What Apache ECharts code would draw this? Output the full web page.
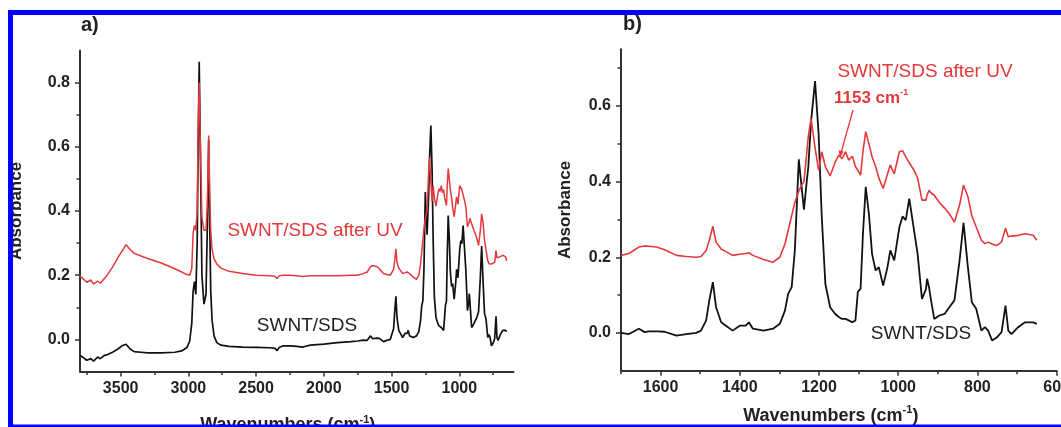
<!DOCTYPE html>
<html>
<head>
<meta charset="utf-8">
<script src="https://cdn.jsdelivr.net/npm/echarts@6/dist/echarts.min.js"></script>
<style>
  html, body { margin: 0; padding: 0; background: #fff; }
  #chart { width: 1061px; height: 427px; }
</style>
</head>
<body>
<div id="chart"></div>
<script>
// high wavenumber part, only shown in panel a)
const wnHigh = [3800, 3780, 3750, 3720, 3700, 3670, 3650, 3620, 3600, 3560, 3520, 3490, 3460, 3430, 3400, 3350, 3300, 3200, 3100, 3050,
  3010, 2990, 2975, 2965, 2955, 2945, 2935, 2928, 2920, 2912, 2900, 2885, 2870, 2860, 2850, 2842, 2835, 2825, 2810, 2790,
  2760, 2700, 2600, 2500, 2400, 2360, 2345, 2330, 2300, 2250, 2200, 2160, 2150, 2140, 2100, 2000, 1900, 1800, 1750, 1710]
const blackHigh = [-0.05, -0.055, -0.065, -0.06, -0.068, -0.055, -0.06, -0.05, -0.048, -0.04, -0.03, -0.02, -0.015, -0.03, -0.038, -0.04, -0.042, -0.042, -0.04, -0.036,
  -0.025, -0.005, 0.05, 0.15, 0.18, 0.14, 0.3, 0.6, 0.865, 0.6, 0.2, 0.11, 0.14, 0.35, 0.62, 0.35, 0.15, 0.06, 0.01, -0.01,
  -0.018, -0.022, -0.024, -0.025, -0.026, -0.028, -0.035, -0.025, -0.02, -0.02, -0.022, -0.024, -0.03, -0.022, -0.018, -0.015, -0.01, -0.007, -0.005, -0.002]
const redHigh = [0.198, 0.19, 0.178, 0.185, 0.172, 0.182, 0.175, 0.19, 0.2, 0.225, 0.255, 0.275, 0.295, 0.28, 0.268, 0.26, 0.252, 0.238, 0.22, 0.21,
  0.202, 0.2, 0.22, 0.33, 0.355, 0.34, 0.4, 0.65, 0.8, 0.62, 0.38, 0.34, 0.34, 0.42, 0.635, 0.45, 0.34, 0.28, 0.25, 0.235,
  0.222, 0.212, 0.205, 0.2, 0.198, 0.197, 0.19, 0.198, 0.2, 0.2, 0.198, 0.196, 0.19, 0.197, 0.198, 0.198, 0.198, 0.2, 0.2, 0.205]

// fingerprint region, shared by panels a) and b)
const wnLow = [1700, 1680, 1655, 1640, 1630, 1610, 1590, 1560, 1535, 1510, 1498, 1485, 1477, 1468, 1460, 1447, 1435, 1418, 1400, 1385,
  1377, 1367, 1340, 1316, 1299, 1286, 1278, 1269, 1261, 1251, 1244, 1238, 1231, 1227, 1220, 1210, 1201, 1193, 1184, 1172,
  1159, 1150, 1142, 1133, 1125, 1116, 1108, 1102, 1095, 1089, 1082, 1074, 1066, 1057, 1049, 1038, 1027, 1020, 1010, 997,
  989, 981, 972, 960, 951, 940, 930, 927, 922, 917, 909, 896, 883, 871, 858, 845, 835, 824, 814, 803,
  790, 781, 773, 763, 752, 739, 729, 722, 714, 697, 680, 659, 650]
const blackLow = [0.0, -0.003, 0.011, 0.002, 0.004, 0.004, 0.003, -0.007, -0.003, 0.0, 0.006, 0.033, 0.086, 0.134, 0.068, 0.028, 0.019, 0.006, 0.019, 0.019,
  0.028, 0.011, 0.006, 0.011, 0.024, 0.059, 0.103, 0.121, 0.218, 0.459, 0.386, 0.326, 0.4, 0.439, 0.56, 0.666, 0.527, 0.307, 0.13, 0.068,
  0.05, 0.042, 0.037, 0.037, 0.033, 0.028, 0.033, 0.108, 0.117, 0.262, 0.386, 0.315, 0.209, 0.165, 0.174, 0.125, 0.174, 0.218, 0.192, 0.28,
  0.308, 0.298, 0.355, 0.271, 0.209, 0.09, 0.115, 0.143, 0.12, 0.086, 0.037, 0.046, 0.05, 0.068, 0.086, 0.192, 0.291, 0.174, 0.081, 0.064,
  0.006, 0.015, 0.006, -0.02, -0.013, 0.002, 0.072, 0.006, -0.003, 0.015, 0.028, 0.028, 0.024]
const redLow = [0.205, 0.21, 0.227, 0.23, 0.229, 0.227, 0.22, 0.205, 0.202, 0.2, 0.202, 0.218, 0.245, 0.282, 0.24, 0.222, 0.215, 0.205, 0.208, 0.21,
  0.212, 0.205, 0.194, 0.187, 0.2, 0.235, 0.27, 0.31, 0.345, 0.375, 0.39, 0.4, 0.475, 0.52, 0.567, 0.49, 0.43, 0.479, 0.44, 0.415,
  0.452, 0.47, 0.461, 0.479, 0.457, 0.467, 0.44, 0.43, 0.417, 0.48, 0.532, 0.5, 0.466, 0.44, 0.41, 0.382, 0.42, 0.444, 0.421, 0.479,
  0.482, 0.466, 0.45, 0.43, 0.41, 0.351, 0.351, 0.365, 0.377, 0.37, 0.364, 0.345, 0.33, 0.315, 0.293, 0.338, 0.391, 0.36, 0.31, 0.28,
  0.245, 0.236, 0.24, 0.235, 0.231, 0.24, 0.277, 0.254, 0.256, 0.258, 0.262, 0.258, 0.245]

// tick values
const xLabelsA = [1000, 1500, 2000, 2500, 3000, 3500]
const xMinorA = [750, 1250, 1750, 2250, 2750, 3250, 3750]
const xLabelsB = [600, 800, 1000, 1200, 1400, 1600]
const xMinorB = [700, 900, 1100, 1300, 1500, 1700]
const yLabelsA = [0, 0.2, 0.4, 0.6, 0.8]
const yLabelsB = [0, 0.2, 0.4, 0.6]
const yMinor = [0.1, 0.3, 0.5, 0.7]

const FONT = 'Liberation Sans, Arial, sans-serif'
const AXIS = '#333'
const RED = '#e3393c'

const pairs = (xs, ys) => xs.map((x, i) => [x, ys[i]])

const wnAll = wnHigh.concat(wnLow)
const blackAll = blackHigh.concat(blackLow)
const redAll = redHigh.concat(redLow)

function xName(shift) {
  return {
    padding: [0, shift, 0, 0],
    rich: {
      t: { fontFamily: FONT, fontSize: 18, fontWeight: 'bold', color: '#222', lineHeight: 22 },
      s: { fontFamily: FONT, fontSize: 11, fontWeight: 'bold', color: '#222', lineHeight: 22, verticalAlign: 'top' }
    }
  }
}

function xMain(grid, min, max, labels, gap, shift) {
  return {
    type: 'value', gridIndex: grid, min: min, max: max, inverse: true, position: 'bottom',
    axisLine: { onZero: false, lineStyle: { color: AXIS, width: 2 } },
    axisTick: { customValues: labels, length: 5, lineStyle: { color: AXIS, width: 1.5 } },
    axisLabel: { customValues: labels, formatter: v => String(v), fontFamily: FONT, fontSize: 16, fontWeight: 'bold', color: '#222', margin: 9 },
    splitLine: { show: false },
    name: '{t|Wavenumbers (cm}{s|-1}{t|)}', nameLocation: 'middle', nameGap: gap, nameTextStyle: xName(shift)
  }
}

function xMinorAxis(grid, min, max, ticks) {
  return {
    type: 'value', gridIndex: grid, min: min, max: max, inverse: true, position: 'bottom',
    axisLine: { show: false, onZero: false },
    axisTick: { customValues: ticks, length: 3.5, lineStyle: { color: AXIS, width: 1.5 } },
    axisLabel: { show: false },
    splitLine: { show: false }
  }
}

function yMain(grid, max, labels, gap) {
  return {
    type: 'value', gridIndex: grid, min: -0.1, max: max, position: 'left',
    axisLine: { show: true, onZero: false, lineStyle: { color: AXIS, width: 2 } },
    axisTick: { show: true, customValues: labels, length: 5, lineStyle: { color: AXIS, width: 1.5 } },
    axisLabel: { customValues: labels, formatter: v => v.toFixed(1), fontFamily: FONT, fontSize: 16, fontWeight: 'bold', color: '#222', margin: 10 },
    splitLine: { show: false },
    name: 'Absorbance', nameLocation: 'middle', nameGap: gap,
    nameTextStyle: { fontFamily: FONT, fontSize: 17, fontWeight: 'bold', color: '#222' }
  }
}

function yMinorAxis(grid, max) {
  return {
    type: 'value', gridIndex: grid, min: -0.1, max: max, position: 'left',
    axisLine: { show: false, onZero: false },
    axisTick: { show: true, customValues: yMinor, length: 3.5, lineStyle: { color: AXIS, width: 1.5 } },
    axisLabel: { show: false },
    splitLine: { show: false }
  }
}

function line(name, xi, yi, data, color, width) {
  return {
    name: name, type: 'line', xAxisIndex: xi, yAxisIndex: yi, data: data,
    showSymbol: false, symbol: 'none', animation: false,
    lineStyle: { color: color, width: width }
  }
}

const chart = echarts.init(document.getElementById('chart'), null, { renderer: 'canvas' })

chart.setOption({
  backgroundColor: '#fff',
  animation: false,
  grid: [
    { left: 80, top: 50.5, width: 433.5, height: 321, outerBoundsMode: 'none', containLabel: false },
    { left: 621, top: 49.3, width: 435.6, height: 321.4, outerBoundsMode: 'none', containLabel: false }
  ],
  xAxis: [
    xMain(0, 600, 3800, xLabelsA, 43, 18),
    xMinorAxis(0, 600, 3800, xMinorA),
    xMain(1, 600, 1700, xLabelsB, 34, 16),
    xMinorAxis(1, 600, 1700, xMinorB)
  ],
  yAxis: [
    yMain(0, 0.9, yLabelsA, 55),
    yMinorAxis(0, 0.9),
    yMain(1, 0.75, yLabelsB, 47),
    yMinorAxis(1, 0.75)
  ],
  series: [
    line('SWNT/SDS', 0, 0, pairs(wnAll, blackAll), '#111', 1.7),
    line('SWNT/SDS after UV', 0, 0, pairs(wnAll, redAll), RED, 1.5),
    line('SWNT/SDS', 2, 2, pairs(wnLow, blackLow), '#111', 1.8),
    line('SWNT/SDS after UV', 2, 2, pairs(wnLow, redLow), RED, 1.6)
  ],
  graphic: [
    // panel letters
    { type: 'text', left: 81, top: 15, style: { text: 'a)', font: 'bold 20px ' + FONT, fill: '#222' } },
    { type: 'text', left: 623, top: 14, style: { text: 'b)', font: 'bold 20px ' + FONT, fill: '#222' } },
    // panel a annotations
    { type: 'text', x: 315, y: 231, style: { text: 'SWNT/SDS after UV', font: '19px ' + FONT, fill: RED, align: 'center', verticalAlign: 'middle' } },
    { type: 'text', x: 307, y: 326, style: { text: 'SWNT/SDS', font: '19px ' + FONT, fill: '#222', align: 'center', verticalAlign: 'middle' } },
    // panel b annotations
    { type: 'text', x: 925, y: 72, style: { text: 'SWNT/SDS after UV', font: '19px ' + FONT, fill: RED, align: 'center', verticalAlign: 'middle' } },
    {
      type: 'text', x: 834, y: 98,
      style: {
        text: '{b|1153 cm}{s|-1}', align: 'left', verticalAlign: 'middle',
        rich: {
          b: { fontFamily: FONT, fontSize: 17, fontWeight: 'bold', fill: RED, lineHeight: 20 },
          s: { fontFamily: FONT, fontSize: 9, fontWeight: 'bold', fill: RED, lineHeight: 20, verticalAlign: 'top' }
        }
      }
    },
    { type: 'text', x: 921, y: 333.5, style: { text: 'SWNT/SDS', font: '19px ' + FONT, fill: '#222', align: 'center', verticalAlign: 'middle' } },
    { type: 'line', shape: { x1: 853, y1: 110, x2: 841, y2: 153 }, style: { stroke: RED, lineWidth: 1.3 } },
    { type: 'polygon', shape: { points: [[840, 158], [843.6, 151.5], [838.6, 150.2]] }, style: { fill: RED } },
    // blue frame
    { type: 'rect', shape: { x: 8, y: 10, width: 1053, height: 5 }, style: { fill: '#0000ff' }, z: 100 },
    { type: 'rect', shape: { x: 8, y: 10, width: 5, height: 417 }, style: { fill: '#0000ff' }, z: 100 },
    { type: 'rect', shape: { x: 8, y: 424.5, width: 1053, height: 3 }, style: { fill: '#0000ff' }, z: 100 }
  ]
})
</script>
</body>
</html>
